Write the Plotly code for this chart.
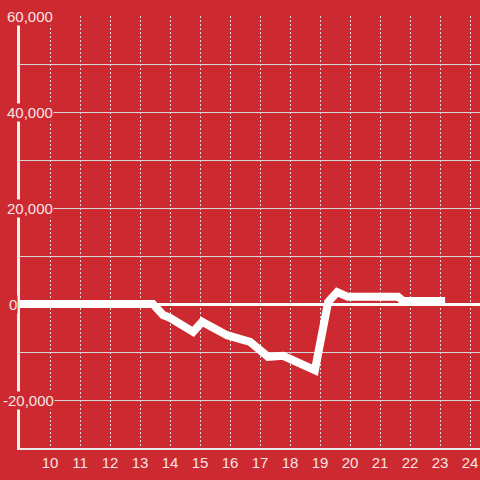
import plotly.graph_objects as go

# data
hours = [9, 13.43, 13.77, 14.0, 14.77, 15.07, 15.9, 16.43, 16.67, 17.27, 17.77,
         18.83, 19.27, 19.57, 19.93, 21.6, 21.77, 23.17]
values = [0, 0, -2300, -2900, -5800, -3700, -6500, -7500, -7900, -11000, -10800,
          -13800, 400, 2500, 1500, 1500, 600, 600]
x_ticks = list(range(10, 25))
y_label_values = [60000, 40000, 20000, 0, -20000]
y_label_texts = ["60,000", "40,000", "20,000", "0", "-20,000"]

BG = "#cc2a30"
TXT = "#f6e4e4"
FONT = "Liberation Sans"

fig = go.Figure()
fig.add_trace(go.Scatter(x=hours, y=values, mode="lines",
                         line=dict(color="white", width=8),
                         hoverinfo="skip", showlegend=False))

annotations = []
for v, t in zip(y_label_values, y_label_texts):
    annotations.append(dict(
        x=0, xref="paper", y=v, yref="y", text=t, showarrow=False,
        xanchor="left", yanchor="middle",
        xshift=-18 if t.startswith("-") else (-12 if t == "0" else -14),
        bgcolor=BG, borderpad=0,
        font=dict(family=FONT, size=15, color=TXT)))

fig.update_layout(
    width=480, height=480,
    margin=dict(l=20, r=0, t=16, b=32, autoexpand=False),
    paper_bgcolor=BG, plot_bgcolor=BG,
    showlegend=False,
    annotations=annotations,
    xaxis=dict(range=[9, 24.333], tickvals=x_ticks, ticktext=[str(t) for t in x_ticks],
               showgrid=True, gridcolor="#e0e0e0", gridwidth=1, griddash="2px,2px",
               showline=True, linecolor="#e8e8e8", linewidth=2, automargin=False,
               zeroline=False, ticks="", fixedrange=True,
               tickfont=dict(family=FONT, size=15, color=TXT)),
    yaxis=dict(range=[-30000, 60000], dtick=10000, showticklabels=False,
               showgrid=True, gridcolor="#d6d6d6", gridwidth=1, automargin=False,
               zeroline=True, zerolinecolor="white", zerolinewidth=3,
               showline=True, linecolor="#f0f0f0", linewidth=3, ticks="",
               fixedrange=True),
)

fig.write_html(
    "out.html",
    config={"displayModeBar": False},
    post_script="document.body.style.margin='0';document.body.style.overflow='hidden';"
                "document.body.style.background='" + BG + "';",
)
